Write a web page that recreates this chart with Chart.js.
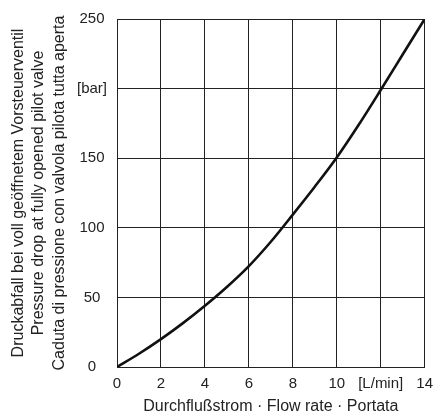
<!DOCTYPE html>
<html>
<head>
<meta charset="utf-8">
<script src="https://cdn.jsdelivr.net/npm/chart.js@4"></script>
<style>
  html, body { margin: 0; padding: 0; background: #fff; }
  #wrap { width: 441px; height: 418px; }
</style>
</head>
<body>
<div id="wrap"><canvas id="flowChart"></canvas></div>
<script>
// Werte
const flowRate = [0, 1, 2, 3, 4, 5, 6, 7, 8, 9, 10, 11, 12, 13, 14];      // L/min
const pressureDrop = [0, 9.5, 20, 31.5, 44, 57.5, 72.5, 90, 109.5, 129.5, 150.5, 174, 199, 224.5, 250]; // bar

const xTickLabels = { 12: '[L/min]' };
const yTickLabels = { 200: '[bar]' };

const yTitle = [
    'Druckabfall bei voll geöffnetem Vorsteuerventil',
    'Pressure drop at fully opened pilot valve',
    'Caduta di pressione con valvola pilota tutta aperta'
];
const xTitle = 'Durchflußstrom · Flow rate · Portata';

const points = flowRate.map((x, i) => ({ x: x, y: pressureDrop[i] }));

const fontFamily = '"Liberation Sans", Arial, sans-serif';
const ink = '#222';

const ctx = document.getElementById('flowChart').getContext('2d');
const flowChart = new Chart(ctx, {
    type: 'scatter',
    data: {
        datasets: [{
            data: points,
            showLine: true,
            borderColor: '#111',
            borderWidth: 2.6,
            pointRadius: 0,
            cubicInterpolationMode: 'monotone',
            fill: false
        }]
    },
    options: {
        responsive: true,
        maintainAspectRatio: false,
        animation: false,
        layout: { padding: { top: 13, right: 10, left: 0, bottom: 0 } },
        plugins: {
            legend: { display: false },
            tooltip: { enabled: false }
        },
        scales: {
            x: {
                type: 'linear',
                min: 0,
                max: 14,
                afterFit: (scale) => { scale.height = 51; },
                ticks: {
                    stepSize: 2,
                    autoSkip: false,
                    color: ink,
                    padding: 8,
                    maxRotation: 0,
                    font: { family: fontFamily, size: 15 },
                    callback: (v) => xTickLabels[v] || String(v)
                },
                grid: { color: '#222', lineWidth: 1, drawTicks: false },
                border: { color: '#222', width: 1 },
                title: {
                    display: true,
                    text: xTitle,
                    color: ink,
                    padding: { top: 0, bottom: 2 },
                    font: { family: fontFamily, size: 16 }
                }
            },
            y: {
                type: 'linear',
                min: 0,
                max: 250,
                afterFit: (scale) => { scale.width = 117; },
                ticks: {
                    stepSize: 50,
                    autoSkip: false,
                    color: ink,
                    padding: 10,
                    crossAlign: 'center',
                    font: { family: fontFamily, size: 15 },
                    callback: (v) => yTickLabels[v] || String(v)
                },
                grid: { color: '#222', lineWidth: 1, drawTicks: false },
                border: { color: '#222', width: 1 },
                title: {
                    display: true,
                    text: yTitle,
                    color: ink,
                    padding: { top: 8, bottom: 0 },
                    font: { family: fontFamily, size: 16, lineHeight: 1.28 }
                }
            }
        }
    }
});
</script>
</body>
</html>
